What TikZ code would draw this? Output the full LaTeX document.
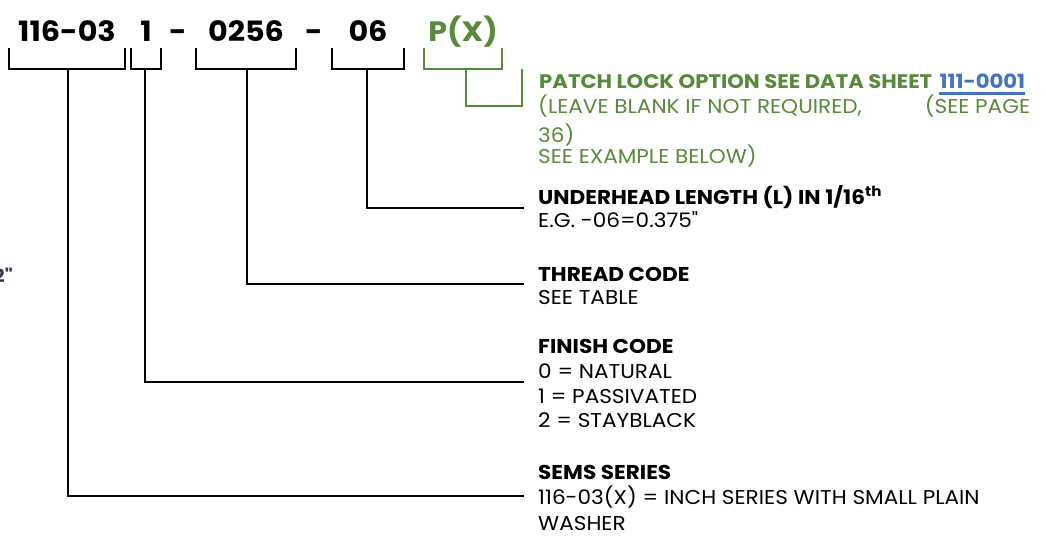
\documentclass[tikz,border=0pt]{standalone}
\usepackage{fontspec}
\setmainfont{Poppins}[FakeStretch=1.08, Ligatures=TeXOff]
\definecolor{grn}{HTML}{588A3B}
\definecolor{lnk}{HTML}{4472C4}
\definecolor{slate}{HTML}{2E3B4E}
\tikzset{
  brk/.style={line width=2.6pt, line join=miter},
  gbrk/.style={brk, draw=grn},
  hdr/.style={anchor=base, inner sep=0pt, font=\bfseries\fontsize{28}{28}\selectfont},
  lbl/.style={anchor=base west, inner sep=0pt, font=\fontsize{20}{20}\selectfont},
  lblb/.style={lbl, font=\bfseries\fontsize{20}{20}\selectfont},
}
\begin{document}
\begin{tikzpicture}[x=1pt,y=-1pt]
\useasboundingbox (0,0) rectangle (1046,541);
\clip (0,0) rectangle (1046,541);
\fill[white] (0,0) rectangle (1046,541);

% header pieces
\node[hdr] (h1) at (67,41) {116-03};
\node[hdr] (h2) at (146,41) {1};
\node[hdr] (d1) at (178,41) {-};
\node[hdr] (h3) at (246,41) {0256};
\node[hdr] (d2) at (314,41) {-};
\node[hdr] (h4) at (368,41) {06};
\node[hdr, text=grn] (h5) at (463,41) {P(X)};

% partial text at left edge
\node[anchor=base east, inner sep=0pt, text=slate, font=\bfseries\fontsize{18}{18}\selectfont] (cut) at (13,282) {2"};

% brackets
\draw[brk] (9,48) -- (9,69) -- (125,69) -- (125,48);
\draw[brk] (131,48) -- (131,69) -- (161,69) -- (161,48);
\draw[brk] (196,48) -- (196,69) -- (296,69) -- (296,48);
\draw[brk] (332,48) -- (332,69) -- (404,69) -- (404,48);
\draw[gbrk] (424,48) -- (424,69) -- (502,69) -- (502,48);

% label coordinates
\coordinate (e1) at (524,496);
\coordinate (e2) at (524,382);
\coordinate (e3) at (524,284);
\coordinate (e4) at (524,208);

% connectors
\draw[brk] (68,69) |- (e1);
\draw[brk] (145,69) |- (e2);
\draw[brk] (247,69) |- (e3);
\draw[brk] (367,69) |- (e4);
\draw[gbrk] (466,69) -- (466,106) -- (522,106) -- (522,69);

% patch lock block
\node[lblb, text=grn, font=\bfseries\fontsize{19.6}{19.6}\selectfont] (p1) at (539,88) {PATCH LOCK OPTION SEE DATA SHEET};
\node[lblb, text=lnk, font=\bfseries\fontsize{19.6}{19.6}\selectfont] (lk) at ([xshift=7pt]p1.base east) {111-0001};
\draw[lnk, line width=2.6pt] ([yshift=-5.5pt]lk.base west) -- ([yshift=-5.5pt]lk.base east);
\node[lbl, text=grn] (p2) at (538,113) {\makebox[492pt][l]{(LEAVE BLANK IF NOT REQUIRED,\hfill(SEE PAGE}};
\node[lbl, text=grn] (p3) at (538,142) {36)};
\node[lbl, text=grn] (p4) at (538,163) {SEE EXAMPLE BELOW)};

% underhead
\node[lblb] (u1) at (538,204) {UNDERHEAD LENGTH (L) IN 1/16\textsuperscript{th}};
\node[lbl] (u2) at (538,227) {E.G. -06=0.375"};

% thread
\node[lblb] (t1) at (538,281) {THREAD CODE};
\node[lbl] (t2) at (538,304) {SEE TABLE};

% finish
\node[lblb] (f1) at (538,353) {FINISH CODE};
\node[lbl] (f2) at (538,378) {0 = NATURAL};
\node[lbl] (f3) at (538,403) {1 = PASSIVATED};
\node[lbl] (f4) at (538,427) {2 = STAYBLACK};

% sems
\node[lblb] (s1) at (538,479) {SEMS SERIES};
\node[lbl] (s2) at (538,504) {116-03(X) = INCH SERIES WITH SMALL PLAIN};
\node[lbl] (s3) at (538,530) {WASHER};
\end{tikzpicture}
\end{document}
